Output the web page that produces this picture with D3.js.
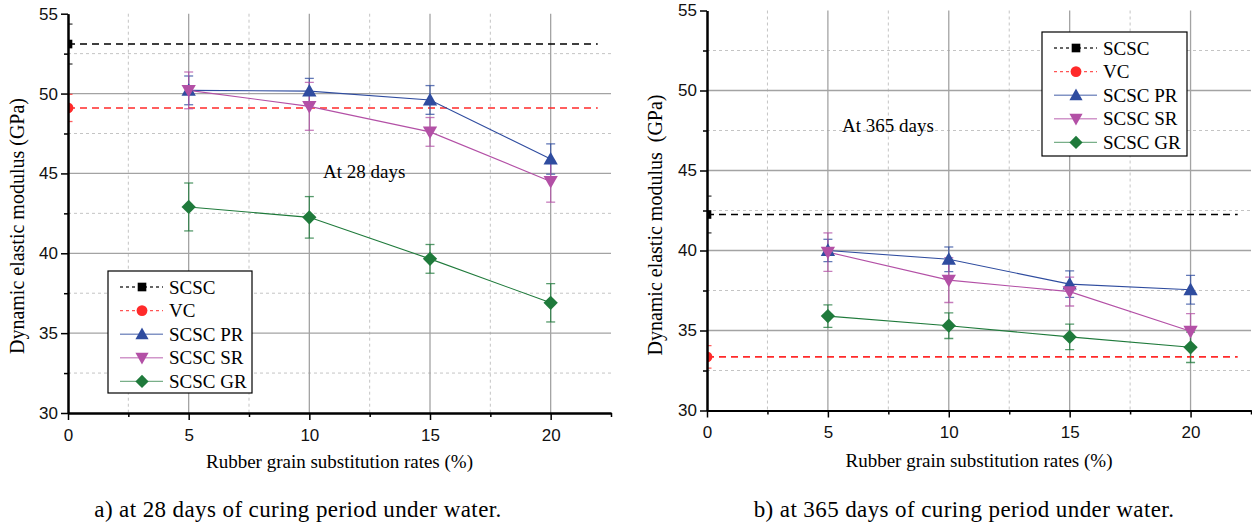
<!DOCTYPE html>
<html>
<head>
<meta charset="utf-8">
<script src="https://cdnjs.cloudflare.com/ajax/libs/d3/7.8.5/d3.min.js"></script>
<style>
  html, body { margin: 0; padding: 0; background: #fff; }
  svg { display: block; }
</style>
</head>
<body>
<svg id="chart" width="1252" height="526"></svg>
<script>
// ---------------- DATA ----------------
const rates = [5, 10, 15, 20];
const xMajorTicks = [0, 5, 10, 15, 20];
const xMinorTicks = [2.5, 7.5, 12.5, 17.5, 22.5];
const yMajorTicks = [30, 35, 40, 45, 50, 55];
const yMinorTicks = [32.5, 37.5, 42.5, 47.5, 52.5];
const seriesNames = ["SCSC", "VC", "SCSC PR", "SCSC SR", "SCSC GR"];

// 28 days
const scsc28 = 53.1, scsc28Err = 1.25;
const vc28 = 49.1, vc28Err = 0.85;
const pr28 = [50.2, 50.15, 49.6, 45.9];
const pr28Err = [0.9, 0.8, 0.9, 0.95];
const sr28 = [50.2, 49.2, 47.6, 44.5];
const sr28Err = [1.15, 1.5, 0.9, 1.3];
const gr28 = [42.9, 42.25, 39.65, 36.9];
const gr28Err = [1.5, 1.3, 0.9, 1.2];

// 365 days
const scsc365 = 42.25, scsc365Err = 1.15;
const vc365 = 33.35, vc365Err = 0.7;
const pr365 = [40.0, 39.45, 37.9, 37.55];
const pr365Err = [0.7, 0.77, 0.83, 0.9];
const sr365 = [39.9, 38.15, 37.43, 34.95];
const sr365Err = [1.2, 1.4, 0.9, 1.1];
const gr365 = [35.9, 35.3, 34.6, 33.95];
const gr365Err = [0.7, 0.8, 0.8, 0.95];

// ---------------- STYLE ----------------
const COL = { SCSC: "#000000", VC: "#ff2a2a", PR: "#2f4c9f", SR: "#b350a6", GR: "#1f7a3b" };
const SANS = "'Liberation Sans', Arial, sans-serif";
const SERIF = "'Liberation Serif', 'Times New Roman', serif";

const svg = d3.select("#chart");

function markerPath(type, s) {
  switch (type) {
    case "square": return `M${-s*0.36},${-s*0.36}h${s*0.72}v${s*0.72}h${-s*0.72}z`;
    case "circle": return d3.symbol(d3.symbolCircle, Math.PI * (s*0.45) * (s*0.45))();
    case "up": return `M0,${-s*0.55}L${s*0.55},${s*0.42}L${-s*0.55},${s*0.42}z`;
    case "down": return `M0,${s*0.55}L${s*0.55},${-s*0.42}L${-s*0.55},${-s*0.42}z`;
    case "diamond": return `M0,${-s*0.55}L${s*0.55},0L0,${s*0.55}L${-s*0.55},0z`;
  }
}

function drawPanel(cfg, id) {
  const x = d3.scaleLinear().domain([0, 22.5]).range([cfg.x0, cfg.x1]);
  const y = d3.scaleLinear().domain([30, 55]).range([cfg.y0, cfg.y1]);
  const g = svg.append("g");

  // grid
  const grid = g.append("g");
  grid.selectAll(".vmin").data(xMinorTicks.filter(v => v < 22.5)).enter().append("line")
    .attr("x1", d => x(d)).attr("x2", d => x(d)).attr("y1", y(55)).attr("y2", y(30))
    .attr("stroke", "#c4c4c4").attr("stroke-width", 1).attr("stroke-dasharray", "3,3");
  grid.selectAll(".hmin").data(yMinorTicks).enter().append("line")
    .attr("x1", x(0)).attr("x2", x(22.5)).attr("y1", d => y(d)).attr("y2", d => y(d))
    .attr("stroke", "#c4c4c4").attr("stroke-width", 1).attr("stroke-dasharray", "3,3");
  grid.selectAll(".vmaj").data(xMajorTicks.filter(v => v > 0)).enter().append("line")
    .attr("x1", d => x(d)).attr("x2", d => x(d)).attr("y1", y(55)).attr("y2", y(30))
    .attr("stroke", "#a3a3a3").attr("stroke-width", 1.3);
  grid.selectAll(".hmaj").data(yMajorTicks.filter(v => v > 30 && v < 55)).enter().append("line")
    .attr("x1", x(0)).attr("x2", x(22.5)).attr("y1", d => y(d)).attr("y2", d => y(d))
    .attr("stroke", "#a3a3a3").attr("stroke-width", 1.3);

  // clip
  svg.append("defs").append("clipPath").attr("id", "clip" + id).append("rect")
    .attr("x", x(0)).attr("y", y(55) - 15).attr("width", x(22.5) - x(0) + 10).attr("height", y(30) - y(55) + 15);
  const plot = g.append("g").attr("clip-path", `url(#clip${id})`);

  // reference lines
  const refs = [
    { v: cfg.scsc, e: cfg.scscErr, c: COL.SCSC, m: "square" },
    { v: cfg.vc, e: cfg.vcErr, c: COL.VC, m: "circle" }
  ];
  refs.forEach(r => {
    plot.append("line").attr("x1", x(0)).attr("x2", x(21.95)).attr("y1", y(r.v)).attr("y2", y(r.v))
      .attr("stroke", r.c).attr("stroke-width", 1.6).attr("stroke-dasharray", "7,5");
  });

  const series = [
    { v: cfg.pr, e: cfg.prErr, c: COL.PR, m: "up" },
    { v: cfg.sr, e: cfg.srErr, c: COL.SR, m: "down" },
    { v: cfg.gr, e: cfg.grErr, c: COL.GR, m: "diamond" }
  ];
  const line = d3.line().x(d => x(d[0])).y(d => y(d[1]));
  series.forEach(s => {
    plot.append("path").datum(rates.map((r, i) => [r, s.v[i]])).attr("d", line)
      .attr("fill", "none").attr("stroke", s.c).attr("stroke-width", 1.1);
  });

  function errBar(xv, v, e, c) {
    const eg = plot.append("g").attr("stroke", c).attr("stroke-opacity", 0.75).attr("stroke-width", 1.3);
    eg.append("line").attr("x1", x(xv)).attr("x2", x(xv)).attr("y1", y(v - e)).attr("y2", y(v + e));
    [v - e, v + e].forEach(t => eg.append("line").attr("x1", x(xv) - 4.5).attr("x2", x(xv) + 4.5).attr("y1", y(t)).attr("y2", y(t)));
  }
  refs.forEach(r => errBar(0, r.v, r.e, r.c));
  series.forEach(s => rates.forEach((r, i) => errBar(r, s.v[i], s.e[i], s.c)));

  refs.forEach(r => {
    plot.append("path").attr("d", markerPath(r.m, 12)).attr("transform", `translate(${x(0)},${y(r.v)})`).attr("fill", r.c);
  });
  series.forEach(s => {
    plot.selectAll(null).data(rates.map((r, i) => [r, s.v[i]])).enter().append("path")
      .attr("d", markerPath(s.m, 13)).attr("transform", d => `translate(${x(d[0])},${y(d[1])})`).attr("fill", s.c);
  });

  // axes
  const ax = g.append("g").attr("transform", `translate(0,${y(30)})`)
    .call(d3.axisBottom(x).tickValues(xMajorTicks).tickSize(7).tickSizeOuter(0).tickFormat(d3.format("d")));
  const axm = g.append("g").attr("transform", `translate(0,${y(30)})`)
    .call(d3.axisBottom(x).tickValues(xMinorTicks).tickSize(4).tickSizeOuter(0).tickFormat(""));
  const ay = g.append("g").attr("transform", `translate(${x(0)},0)`)
    .call(d3.axisLeft(y).tickValues(yMajorTicks).tickSize(7).tickSizeOuter(0).tickFormat(d3.format("d")));
  const aym = g.append("g").attr("transform", `translate(${x(0)},0)`)
    .call(d3.axisLeft(y).tickValues(yMinorTicks).tickSize(4).tickSizeOuter(0).tickFormat(""));
  [ax, axm, ay, aym].forEach(a => {
    a.select(".domain").attr("stroke", "#000").attr("stroke-width", 2);
    a.selectAll(".tick line").attr("stroke", "#000").attr("stroke-width", 1.5);
    a.selectAll("text").attr("font-family", SANS).attr("font-size", 17).attr("fill", "#111");
  });
  ax.selectAll(".tick text").attr("dy", "1.05em").attr("y", 10);
  ay.selectAll(".tick text").attr("x", -10);

  // titles
  g.append("text").attr("x", (x(0) + x(22.5)) / 2).attr("y", cfg.xTitleY).attr("text-anchor", "middle")
    .attr("font-family", SERIF).attr("font-size", 19).text("Rubber grain substitution rates (%)");
  g.append("text").attr("transform", `translate(${cfg.yTitleX},${cfg.yTitleCY}) rotate(-90)`).attr("text-anchor", "middle")
    .attr("font-family", SERIF).attr("font-size", 20).style("white-space", "pre").text(cfg.yTitle);
  g.append("text").attr("x", cfg.annX).attr("y", cfg.annY).attr("font-family", SERIF).attr("font-size", 19).text(cfg.ann);
  g.append("text").attr("x", cfg.capX).attr("y", cfg.capY).attr("text-anchor", "middle")
    .attr("font-family", SERIF).attr("font-size", 23).attr("letter-spacing", 0.4).text(cfg.caption);

  // legend
  const lg = g.append("g").attr("transform", `translate(${cfg.legX},${cfg.legY})`);
  lg.append("rect").attr("x", 0).attr("y", 0).attr("width", cfg.legW).attr("height", cfg.legH)
    .attr("fill", "#fff").attr("stroke", "#000").attr("stroke-width", 1.2);
  const legItems = [
    { name: seriesNames[0], c: COL.SCSC, m: "square", dash: "3,3" },
    { name: seriesNames[1], c: COL.VC, m: "circle", dash: "3,3" },
    { name: seriesNames[2], c: COL.PR, m: "up", dash: null },
    { name: seriesNames[3], c: COL.SR, m: "down", dash: null },
    { name: seriesNames[4], c: COL.GR, m: "diamond", dash: null }
  ];
  legItems.forEach((it, i) => {
    const cy = 16 + i * 23.6;
    lg.append("line").attr("x1", 12).attr("x2", 55).attr("y1", cy).attr("y2", cy)
      .attr("stroke", it.c).attr("stroke-opacity", it.dash ? 0.8 : 0.6).attr("stroke-width", 1.4)
      .attr("stroke-dasharray", it.dash);
    lg.append("path").attr("d", markerPath(it.m, 12)).attr("transform", `translate(34,${cy})`).attr("fill", it.c);
    lg.append("text").attr("x", 61).attr("y", cy + 6.5).attr("font-family", SERIF).attr("font-size", 19).text(it.name);
  });
}

drawPanel({
  x0: 68, x1: 611, y0: 413, y1: 13.7,
  scsc: scsc28, scscErr: scsc28Err, vc: vc28, vcErr: vc28Err,
  pr: pr28, prErr: pr28Err, sr: sr28, srErr: sr28Err, gr: gr28, grErr: gr28Err,
  xTitleY: 468, yTitleX: 24, yTitleCY: 226, yTitle: "Dynamic elastic modulus (GPa)",
  ann: "At 28 days", annX: 323, annY: 178,
  caption: "a) at 28 days of curing period under water.", capX: 298, capY: 517,
  legX: 108, legY: 271, legW: 144, legH: 122
}, "a");

drawPanel({
  x0: 707, x1: 1251, y0: 410.5, y1: 10.5,
  scsc: scsc365, scscErr: scsc365Err, vc: vc365, vcErr: vc365Err,
  pr: pr365, prErr: pr365Err, sr: sr365, srErr: sr365Err, gr: gr365, grErr: gr365Err,
  xTitleY: 467, yTitleX: 662, yTitleCY: 225, yTitle: "Dynamic elastic modulus  (GPa)",
  ann: "At 365 days", annX: 842, annY: 132,
  caption: "b) at 365 days of curing period under water.", capX: 964, capY: 517,
  legX: 1042, legY: 32, legW: 145, legH: 124
}, "b");
</script>
</body>
</html>
